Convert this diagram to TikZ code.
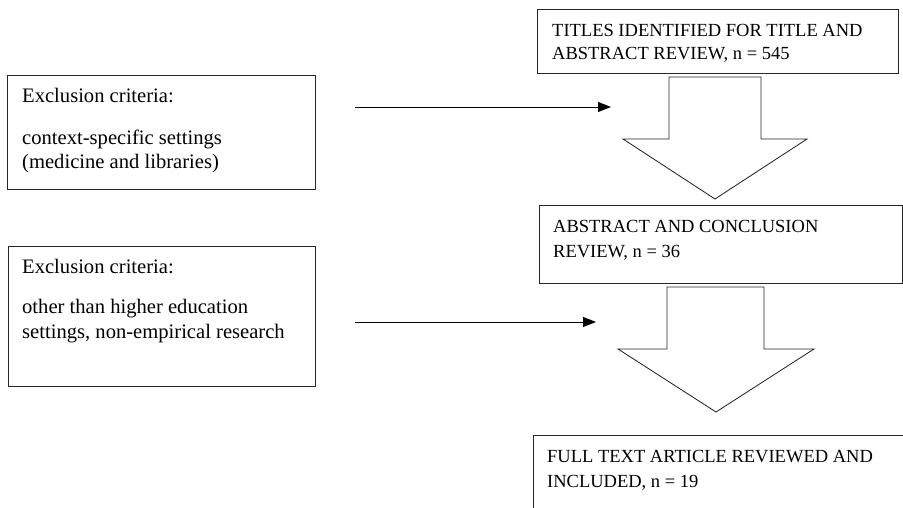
\documentclass[tikz,border=0pt]{standalone}
\usepackage{fontspec}
\setmainfont{Liberation Serif}
\usetikzlibrary{arrows.meta}
\begin{document}
\begin{tikzpicture}[x=1pt,y=-1pt,
  frame/.style={draw=black!85, line width=0.85pt, inner sep=0pt, anchor=north west},
  rtxt/.style={anchor=base west, inner sep=0pt, font=\fontsize{18.5}{22}\selectfont},
  ltxt/.style={anchor=base west, inner sep=0pt, font=\fontsize{20.6}{25}\selectfont},
  blockarrow/.style={draw=black!85, line width=0.85pt, line join=miter},
  conn/.style={draw=black, line width=0.85pt, -{Triangle[length=13pt,width=10pt]}}]
\useasboundingbox (0,0) rectangle (903,508);

% right-hand boxes
\node[frame, minimum width=361pt, minimum height=64pt] (t1) at (537,9) {};
\node[rtxt] (t1a) at (552,37) {TITLES IDENTIFIED FOR TITLE AND};
\node[rtxt] (t1b) at (552,60) {ABSTRACT REVIEW, n = 545};

\node[frame, minimum width=363pt, minimum height=78pt] (t2) at (539,205) {};
\node[rtxt] (t2a) at (553,233) {ABSTRACT AND CONCLUSION};
\node[rtxt] (t2b) at (553,257) {REVIEW, n = 36};

\coordinate (t3bl) at (533,512);
\coordinate (t3tl) at (533,435);
\coordinate (t3tr) at (903,435);
\draw[draw=black!85, line width=0.85pt] (t3bl) -- (t3tl) -- (t3tr);
\node[rtxt] (t3a) at (547,462) {FULL TEXT ARTICLE REVIEWED AND};
\node[rtxt] (t3b) at (547,487) {INCLUDED, n = 19};

% left-hand boxes
\node[frame, minimum width=308pt, minimum height=114pt] (l1) at (7,75) {};
\node[ltxt] (l1a) at (22,103) {Exclusion criteria:};
\node[ltxt] (l1b) at (22,145) {context-specific settings};
\node[ltxt] (l1c) at (22,169) {(medicine and libraries)};

\node[frame, minimum width=307pt, minimum height=140pt] (l2) at (8,246) {};
\node[ltxt] (l2a) at (22,273) {Exclusion criteria:};
\node[ltxt] (l2b) at (22,313) {other than higher education};
\node[ltxt] (l2c) at (22,338) {settings, non-empirical research};

% block arrows
\draw[blockarrow] (669,77) -- (761,77) -- (761,139) -- (807,139) -- (715,199)
  -- (623,139) -- (669,139) -- cycle;
\draw[blockarrow] (667,287) -- (764,287) -- (764,349) -- (814,349) -- (716,412)
  -- (618,349) -- (667,349) -- cycle;

% connectors
\coordinate (a1s) at (355,107);
\coordinate (a1e) at (611,107);
\coordinate (a2s) at (355,322);
\coordinate (a2e) at (596,322);
\draw[conn] (a1s) -- (a1e);
\draw[conn] (a2s) -- (a2e);
\end{tikzpicture}
\end{document}
